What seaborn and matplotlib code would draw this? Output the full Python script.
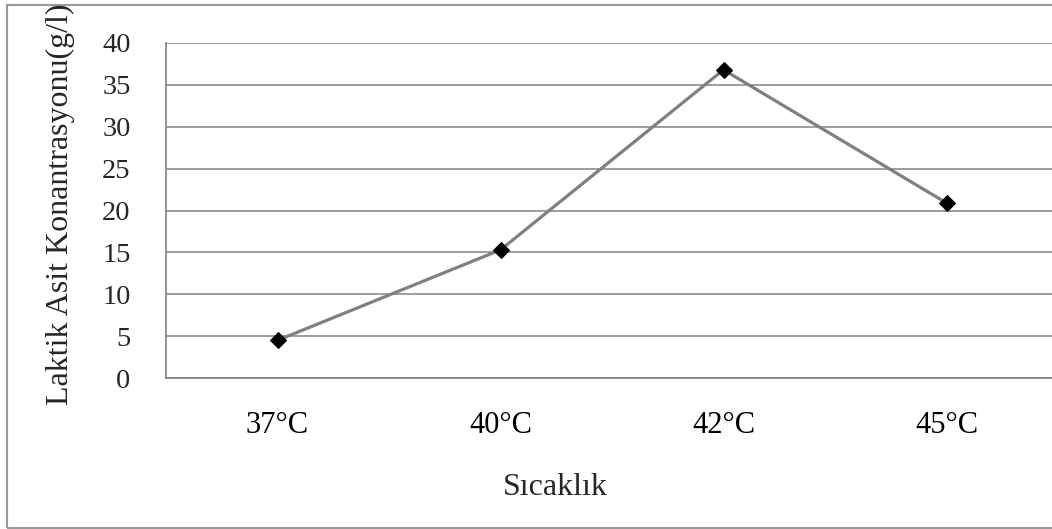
import matplotlib
matplotlib.use("Agg")
import matplotlib.pyplot as plt
import seaborn as sns
import pandas as pd
from matplotlib.patches import Rectangle

categories = ["37°C", "40°C", "42°C", "45°C"]
values = [4.5, 15.3, 36.8, 20.9]
y_ticks = [0, 5, 10, 15, 20, 25, 30, 35, 40]

sns.set_theme(style="white")
plt.rcParams["font.family"] = ["Liberation Serif", "DejaVu Serif"]

df = pd.DataFrame({"pos": list(range(len(categories))), "val": values})

fig = plt.figure(figsize=(10.52, 5.29), dpi=100)
ax = fig.add_axes([166/1052, 1-378/529, (1058-166)/1052, (378-43)/529])

sns.lineplot(data=df, x="pos", y="val", ax=ax, color="#808080", linewidth=2.3,
             marker="D", markersize=8.5, markerfacecolor="black",
             markeredgecolor="black", zorder=3)

ax.set_xlim(-0.5, len(categories) - 0.5)
ax.set_ylim(0, 40)
ax.set_yticks(y_ticks)
ax.set_yticklabels([str(t) for t in y_ticks], fontsize=20.5)
ax.set_xticks(range(len(categories)))
ax.set_xticklabels(categories, fontsize=22)
ax.set_xticks([i - 0.5 for i in range(len(categories) + 1)], minor=True)
ax.tick_params(axis="x", which="major", length=0, pad=24, colors="black")
ax.tick_params(axis="x", which="minor", length=7.5, width=1.0, color="#808080", direction="out")
ax.tick_params(axis="y", which="major", length=7.5, width=1.0, color="#808080", direction="out", pad=18)
ax.grid(axis="y", color="#8c8c8c", linewidth=1.2)
ax.grid(axis="x", visible=False)
ax.set_axisbelow(True)
for s in ["top", "right"]:
    ax.spines[s].set_visible(False)
for s in ["left", "bottom"]:
    ax.spines[s].set_color("#808080")
    ax.spines[s].set_linewidth(1.2)
ax.set_xlabel("")
ax.set_ylabel("")

fig.text(60/1052, 1-405/529, "Laktik Asit Konantrasyonu(g/l)", rotation=90,
         ha="center", va="bottom", fontsize=23)
fig.text(555/1052, 1-495/529, "Sıcaklık", ha="center", va="baseline", fontsize=23)

fig.patches.append(Rectangle((7/1052, 1-528/529), 1.2, (528-5)/529,
                             transform=fig.transFigure, fill=False,
                             edgecolor="#9a9a9a", linewidth=1.5))

fig.savefig("out.png", dpi=100)
